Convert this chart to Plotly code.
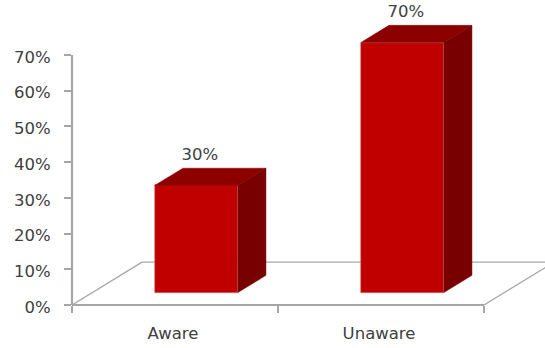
import plotly.graph_objects as go

# Chart data
categories = ["Aware", "Unaware"]
category_positions = [0, 1]
values = [30, 70]
value_labels = ["30%", "70%"]
y_ticks = [0, 10, 20, 30, 40, 50, 60, 70]
y_tick_labels = ["0%", "10%", "20%", "30%", "40%", "50%", "60%", "70%"]

# Pseudo-3D geometry, in axis units
X_LEFT, X_RIGHT = -0.5, 1.5
X_MAX = X_LEFT + 473 / 206
Y_MAX = 305 / (250 / 70)
BAR_WIDTH = 0.403
BAR_SHIFT = 0.104      # bars sit slightly right of the category centre
FLOOR_LIFT = 3.5       # front face rises off the floor's front edge
BAR_DX, BAR_DY = 0.136, 4.8     # bar depth
FLOOR_DX, FLOOR_DY = 0.34, 12.0  # floor depth

FRONT = "#c00000"
TOP = "#8c0000"
SIDE = "#790000"
EDGE = "#d9706f"
AXIS = "#a6a6a6"
FLOOR = "#a8a8a8"
TEXT = "#404040"
FONT = "DejaVu Sans"
FONT_SIZE = 16.5

fig = go.Figure()

bar_x = [p + BAR_SHIFT for p in category_positions]

fig.add_trace(go.Bar(
    x=bar_x, y=values, base=[FLOOR_LIFT] * len(values), width=BAR_WIDTH,
    marker=dict(color=FRONT, line=dict(color=EDGE, width=0.6)),
    showlegend=False, hoverinfo="skip",
))

# Top and side faces of each bar
for cx, v in zip(bar_x, values):
    x0, x1 = cx - BAR_WIDTH / 2, cx + BAR_WIDTH / 2
    y0, y1 = FLOOR_LIFT, FLOOR_LIFT + v
    fig.add_trace(go.Scatter(
        x=[x0, x1, x1 + BAR_DX, x0 + BAR_DX, x0],
        y=[y1, y1, y1 + BAR_DY, y1 + BAR_DY, y1],
        mode="lines", fill="toself", fillcolor=TOP,
        line=dict(color=TOP, width=0.5), showlegend=False, hoverinfo="skip",
    ))
    fig.add_trace(go.Scatter(
        x=[x1, x1 + BAR_DX, x1 + BAR_DX, x1, x1],
        y=[y0, y0 + BAR_DY, y1 + BAR_DY, y1, y0],
        mode="lines", fill="toself", fillcolor=SIDE,
        line=dict(color=SIDE, width=0.5), showlegend=False, hoverinfo="skip",
    ))

# Value labels above each bar
fig.add_trace(go.Scatter(
    x=[c + 0.017 for c in bar_x],
    y=[FLOOR_LIFT + v + BAR_DY + 1.2 for v in values],
    mode="text", text=value_labels, textposition="top center",
    textfont=dict(family=FONT, size=FONT_SIZE, color=TEXT),
    cliponaxis=False, showlegend=False, hoverinfo="skip",
))

# Category labels share the x scale but carry no tick marks
fig.add_trace(go.Scatter(
    x=category_positions, y=[0, 0], xaxis="x2", mode="markers",
    marker=dict(opacity=0), showlegend=False, hoverinfo="skip",
))


def line_shape(x0, y0, x1, y1, color, width, layer):
    return dict(type="line", xref="x", yref="y", x0=x0, y0=y0, x1=x1, y1=y1,
                line=dict(color=color, width=width), layer=layer)


def axis_shape(x0, y0, x1, y1):
    # Paper-anchored so the full stroke width shows at the plot edge
    return dict(type="line", xref="paper", yref="paper", x0=x0, y0=y0, x1=x1, y1=y1,
                line=dict(color=AXIS, width=2.2), layer="above")


shapes = [
    # Floor outline, behind the bars
    line_shape(X_LEFT, 0, X_LEFT + FLOOR_DX, FLOOR_DY, FLOOR, 1.3, "below"),
    line_shape(X_LEFT + FLOOR_DX, FLOOR_DY, X_MAX, FLOOR_DY, FLOOR, 1.3, "below"),
    line_shape(X_RIGHT, 0, X_RIGHT + FLOOR_DX, FLOOR_DY, FLOOR, 1.3, "below"),
    # Axis lines
    axis_shape(0, 0, 0, 70 / Y_MAX),
    axis_shape(0, 0, (X_RIGHT - X_LEFT) / (X_MAX - X_LEFT), 0),
]

fig.update_layout(
    width=545, height=348, autosize=False,
    margin=dict(l=72, r=0, t=0, b=43, pad=0),
    paper_bgcolor="white", plot_bgcolor="white",
    shapes=shapes,
    xaxis=dict(
        range=[X_LEFT, X_MAX], showgrid=False, zeroline=False, showline=False,
        tickmode="array", tickvals=[-0.5, 0.5, 1.5],
        ticktext=["", "", ""],
        ticks="outside", ticklen=7, tickcolor=AXIS, tickwidth=1.5,
    ),
    xaxis2=dict(
        range=[X_LEFT, X_MAX], overlaying="x", side="bottom", anchor="y",
        showgrid=False, zeroline=False, showline=False,
        tickmode="array", tickvals=category_positions, ticktext=categories,
        ticks="", ticklabelstandoff=16, ticklabelshift=-2,
        tickfont=dict(family=FONT, size=FONT_SIZE, color=TEXT),
    ),
    yaxis=dict(
        range=[0, Y_MAX], showgrid=False, zeroline=False, showline=False,
        tickmode="array", tickvals=y_ticks, ticktext=y_tick_labels,
        ticks="outside", ticklen=7, tickcolor=AXIS, tickwidth=1.5,
        ticklabelstandoff=10, ticklabelshift=2,
        tickfont=dict(family=FONT, size=FONT_SIZE, color=TEXT),
    ),
    bargap=0,
)

fig.write_html("out.html", config=dict(displayModeBar=False))
